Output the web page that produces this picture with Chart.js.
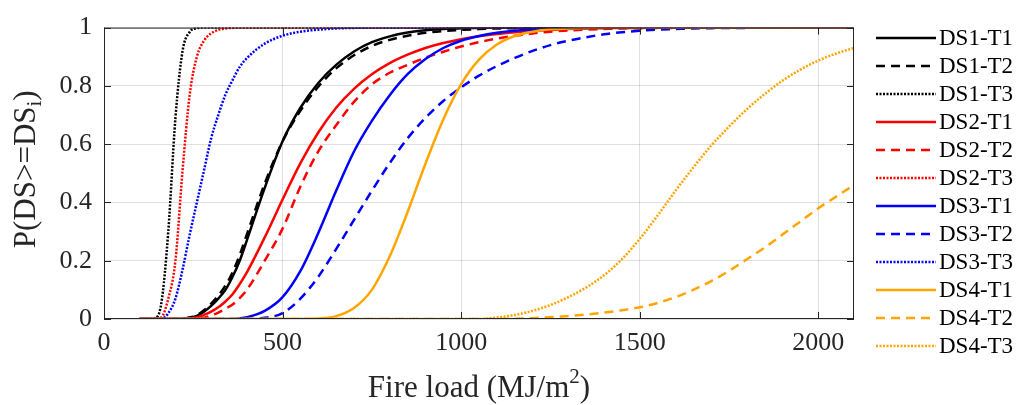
<!DOCTYPE html>
<html>
<head>
<meta charset="utf-8">
<script src="https://cdn.jsdelivr.net/npm/chart.js@4.4.0/dist/chart.umd.min.js"></script>
<style>
  html, body { margin: 0; padding: 0; background: #fff; }
  #wrap { width: 1017px; height: 405px; }
</style>
</head>
<body>
<div id="wrap"><canvas id="fragility" width="1017" height="405"></canvas></div>
<script>
// fire load grid (MJ/m2)
var fireLoad = [100, 120, 140, 160, 180, 200, 220, 240, 260, 280, 300, 320, 340, 360, 380, 400,
   450, 500, 550, 600, 650, 700, 750, 800, 850, 900, 950, 1000, 1050, 1100, 1150, 1200, 1250,
   1300, 1350, 1400, 1450, 1500, 1550, 1600, 1650, 1700, 1750, 1800, 1850, 1900, 1950, 2000, 2050, 2100];

// probability of exceedance
var ds1t1 = [0, 0, 0, 0, 0, 0, 0.001, 0.004, 0.011, 0.025, 0.045, 0.07, 0.1, 0.145, 0.2, 0.27,
   0.45, 0.61, 0.725, 0.81, 0.872, 0.918, 0.95, 0.97, 0.983, 0.991, 0.995, 0.998, 0.999, 1, 1, 1, 1,
   1, 1, 1, 1, 1, 1, 1, 1, 1, 1, 1, 1, 1, 1, 1, 1, 1];
var ds1t2 = [0, 0, 0, 0, 0, 0, 0.001, 0.005, 0.013, 0.03, 0.053, 0.08, 0.115, 0.16, 0.22, 0.29,
   0.465, 0.61, 0.715, 0.797, 0.86, 0.905, 0.937, 0.958, 0.972, 0.982, 0.988, 0.992, 0.995, 0.997, 0.998, 0.999, 1,
   1, 1, 1, 1, 1, 1, 1, 1, 1, 1, 1, 1, 1, 1, 1, 1, 1];
var ds1t3 = [0, 0, 0.002, 0.05, 0.3, 0.69, 0.92, 0.985, 0.998, 1, 1, 1, 1, 1, 1, 1,
   1, 1, 1, 1, 1, 1, 1, 1, 1, 1, 1, 1, 1, 1, 1, 1, 1,
   1, 1, 1, 1, 1, 1, 1, 1, 1, 1, 1, 1, 1, 1, 1, 1, 1];
var ds2t1 = [0, 0, 0, 0, 0, 0, 0, 0.002, 0.005, 0.014, 0.025, 0.04, 0.06, 0.085, 0.12, 0.16,
   0.28, 0.41, 0.535, 0.64, 0.725, 0.79, 0.84, 0.878, 0.907, 0.93, 0.947, 0.96, 0.97, 0.978, 0.984, 0.989, 0.992,
   0.995, 0.997, 0.998, 0.999, 0.999, 1, 1, 1, 1, 1, 1, 1, 1, 1, 1, 1, 1];
var ds2t2 = [0, 0, 0, 0, 0, 0, 0, 0, 0, 0.004, 0.012, 0.022, 0.035, 0.05, 0.072, 0.1,
   0.2, 0.31, 0.455, 0.575, 0.665, 0.745, 0.805, 0.845, 0.872, 0.897, 0.917, 0.935, 0.95, 0.962, 0.972, 0.98, 0.986,
   0.99, 0.993, 0.995, 0.997, 0.998, 0.999, 0.999, 1, 1, 1, 1, 1, 1, 1, 1, 1, 1];
var ds2t3 = [0, 0, 0, 0.005, 0.07, 0.2, 0.51, 0.77, 0.9, 0.955, 0.98, 0.992, 0.997, 0.999, 1, 1,
   1, 1, 1, 1, 1, 1, 1, 1, 1, 1, 1, 1, 1, 1, 1, 1, 1,
   1, 1, 1, 1, 1, 1, 1, 1, 1, 1, 1, 1, 1, 1, 1, 1, 1];
var ds3t1 = [0, 0, 0, 0, 0, 0, 0, 0, 0, 0, 0, 0, 0, 0, 0.002, 0.006,
   0.028, 0.075, 0.165, 0.295, 0.44, 0.575, 0.68, 0.768, 0.84, 0.892, 0.93, 0.955, 0.971, 0.982, 0.989, 0.993, 0.996,
   0.998, 0.999, 1, 1, 1, 1, 1, 1, 1, 1, 1, 1, 1, 1, 1, 1, 1];
var ds3t2 = [0, 0, 0, 0, 0, 0, 0, 0, 0, 0, 0, 0, 0, 0, 0, 0,
   0.004, 0.02, 0.07, 0.145, 0.24, 0.34, 0.44, 0.535, 0.62, 0.69, 0.748, 0.795, 0.835, 0.868, 0.896, 0.92, 0.94,
   0.955, 0.967, 0.977, 0.984, 0.989, 0.993, 0.995, 0.997, 0.998, 0.999, 0.999, 1, 1, 1, 1, 1, 1];
var ds3t3 = [0, 0, 0, 0, 0.02, 0.07, 0.17, 0.29, 0.4, 0.51, 0.62, 0.7, 0.77, 0.82, 0.865, 0.895,
   0.945, 0.972, 0.986, 0.993, 0.997, 0.999, 1, 1, 1, 1, 1, 1, 1, 1, 1, 1, 1,
   1, 1, 1, 1, 1, 1, 1, 1, 1, 1, 1, 1, 1, 1, 1, 1, 1];
var ds4t1 = [0, 0, 0, 0, 0, 0, 0, 0, 0, 0, 0, 0, 0, 0, 0, 0,
   0, 0, 0, 0.002, 0.01, 0.038, 0.1, 0.215, 0.367, 0.533, 0.685, 0.806, 0.89, 0.942, 0.971, 0.986, 0.994,
   0.997, 0.999, 1, 1, 1, 1, 1, 1, 1, 1, 1, 1, 1, 1, 1, 1, 1];
var ds4t2 = [0, 0, 0, 0, 0, 0, 0, 0, 0, 0, 0, 0, 0, 0, 0, 0,
   0, 0, 0, 0, 0, 0, 0, 0, 0, 0, 0, 0, 0, 0, 0.001, 0.003, 0.006,
   0.01, 0.015, 0.022, 0.03, 0.04, 0.055, 0.075, 0.1, 0.13, 0.165, 0.205, 0.245, 0.29, 0.335, 0.38, 0.42, 0.46];
var ds4t3 = [0, 0, 0, 0, 0, 0, 0, 0, 0, 0, 0, 0, 0, 0, 0, 0,
   0, 0, 0, 0, 0, 0, 0, 0, 0, 0, 0, 0, 0, 0.005, 0.014, 0.028, 0.048,
   0.075, 0.108, 0.15, 0.205, 0.275, 0.355, 0.44, 0.52, 0.595, 0.66, 0.72, 0.772, 0.818, 0.856, 0.887, 0.911, 0.93];

var seriesNames = ['DS1-T1', 'DS1-T2', 'DS1-T3', 'DS2-T1', 'DS2-T2', 'DS2-T3',
   'DS3-T1', 'DS3-T2', 'DS3-T3', 'DS4-T1', 'DS4-T2', 'DS4-T3'];
var seriesValues = [ds1t1, ds1t2, ds1t3, ds2t1, ds2t2, ds2t3, ds3t1, ds3t2, ds3t3, ds4t1, ds4t2, ds4t3];

var xTicks = [0, 500, 1000, 1500, 2000];
var xTickLabels = ['0', '500', '1000', '1500', '2000'];
var yTicks = [0, 0.2, 0.4, 0.6, 0.8, 1];
var yTickLabels = ['0', '0.2', '0.4', '0.6', '0.8', '1'];

var stateColors = ['#000000', '#ff0000', '#0000ff', '#ffa500'];
var typeDashes = [[], [9, 6], [2, 1.5]];
var serif = '"Liberation Serif", "Times New Roman", serif';
var axisColor = '#262626';

var datasets = seriesNames.map(function(name, i) {
   return {
      label: name,
      data: fireLoad.map(function(x, j) { return { x: x, y: seriesValues[i][j] }; }),
      borderColor: stateColors[Math.floor(i / 3)],
      borderDash: typeDashes[i % 3],
      borderWidth: 2.5,
      pointRadius: 0,
      fill: false,
      cubicInterpolationMode: 'monotone',
      order: seriesNames.length - i
   };
});

var matlabFrame = {
   id: 'matlabFrame',
   afterDraw: function(chart) {
      var ctx = chart.ctx;
      var a = chart.chartArea;
      var xs = chart.scales.x, ys = chart.scales.y;
      ctx.save();
      ctx.setLineDash([]);
      ctx.strokeStyle = axisColor;
      ctx.lineWidth = 1;
      ctx.strokeRect(a.left + 0.5, a.top + 0.5, a.right - a.left - 1, a.bottom - a.top - 1);

      // inward ticks
      var tl = 7;
      ctx.beginPath();
      xTicks.forEach(function(v) {
         var px = Math.round(xs.getPixelForValue(v)) + 0.5;
         ctx.moveTo(px, a.bottom); ctx.lineTo(px, a.bottom - tl);
         ctx.moveTo(px, a.top); ctx.lineTo(px, a.top + tl);
      });
      yTicks.forEach(function(v) {
         var py = Math.round(ys.getPixelForValue(v)) + 0.5;
         ctx.moveTo(a.left, py); ctx.lineTo(a.left + tl, py);
         ctx.moveTo(a.right, py); ctx.lineTo(a.right - tl, py);
      });
      ctx.stroke();

      // axis titles
      ctx.fillStyle = axisColor;
      ctx.textBaseline = 'alphabetic';
      ctx.textAlign = 'left';
      var big = '31px ' + serif, small = '21px ' + serif;

      ctx.font = big;
      var xa = 'Fire load (MJ/m', xb = ')';
      var wa = ctx.measureText(xa).width, wb = ctx.measureText(xb).width;
      ctx.font = small;
      var w2 = ctx.measureText('2').width;
      var x0 = (a.left + a.right) / 2 - (wa + w2 + wb) / 2;
      ctx.font = big;
      ctx.fillText(xa, x0, 397);
      ctx.fillText(xb, x0 + wa + w2, 397);
      ctx.font = small;
      ctx.fillText('2', x0 + wa, 383);

      ctx.translate(35, (a.top + a.bottom) / 2 - 4);
      ctx.rotate(-Math.PI / 2);
      ctx.font = big;
      var ya = 'P(DS>=DS', yb = ')';
      var wya = ctx.measureText(ya).width, wyb = ctx.measureText(yb).width;
      ctx.font = small;
      var wi = ctx.measureText('i').width;
      var y0 = -(wya + wi + wyb) / 2;
      ctx.font = big;
      ctx.fillText(ya, y0, 0);
      ctx.fillText(yb, y0 + wya + wi, 0);
      ctx.font = small;
      ctx.fillText('i', y0 + wya, 6);
      ctx.restore();

      // legend
      ctx.save();
      ctx.font = '23px ' + serif;
      ctx.textBaseline = 'middle';
      ctx.fillStyle = '#000';
      seriesNames.forEach(function(name, i) {
         var y = 38 + 28 * i;
         ctx.strokeStyle = stateColors[Math.floor(i / 3)];
         ctx.lineWidth = 2.5;
         ctx.setLineDash(typeDashes[i % 3]);
         ctx.beginPath();
         ctx.moveTo(876, y);
         ctx.lineTo(936, y);
         ctx.stroke();
         ctx.fillText(name, 939, y + 1);
      });
      ctx.restore();
   }
};

new Chart(document.getElementById('fragility'), {
   type: 'line',
   data: { datasets: datasets },
   plugins: [matlabFrame],
   options: {
      responsive: false,
      animation: false,
      layout: { padding: { top: 19, right: 163, left: 0, bottom: 0 } },
      plugins: { legend: { display: false }, tooltip: { enabled: false } },
      scales: {
         x: {
            type: 'linear',
            min: 0,
            max: 2100,
            afterBuildTicks: function(s) { s.ticks = xTicks.map(function(v) { return { value: v }; }); },
            afterFit: function(s) { s.height = 86; },
            grid: { color: 'rgba(38,38,38,0.15)', drawTicks: false },
            border: { display: false },
            ticks: {
               color: axisColor,
               font: { family: serif, size: 26 },
               padding: 9,
               maxRotation: 0,
               callback: function(v, i) { return xTickLabels[i]; }
            }
         },
         y: {
            min: 0,
            max: 1,
            afterBuildTicks: function(s) { s.ticks = yTicks.map(function(v) { return { value: v }; }); },
            afterFit: function(s) { s.width = 104; },
            grid: { color: 'rgba(38,38,38,0.15)', drawTicks: false },
            border: { display: false },
            ticks: {
               color: axisColor,
               font: { family: serif, size: 26 },
               padding: 12,
               callback: function(v, i) { return yTickLabels[i]; }
            }
         }
      }
   }
});
</script>
</body>
</html>
